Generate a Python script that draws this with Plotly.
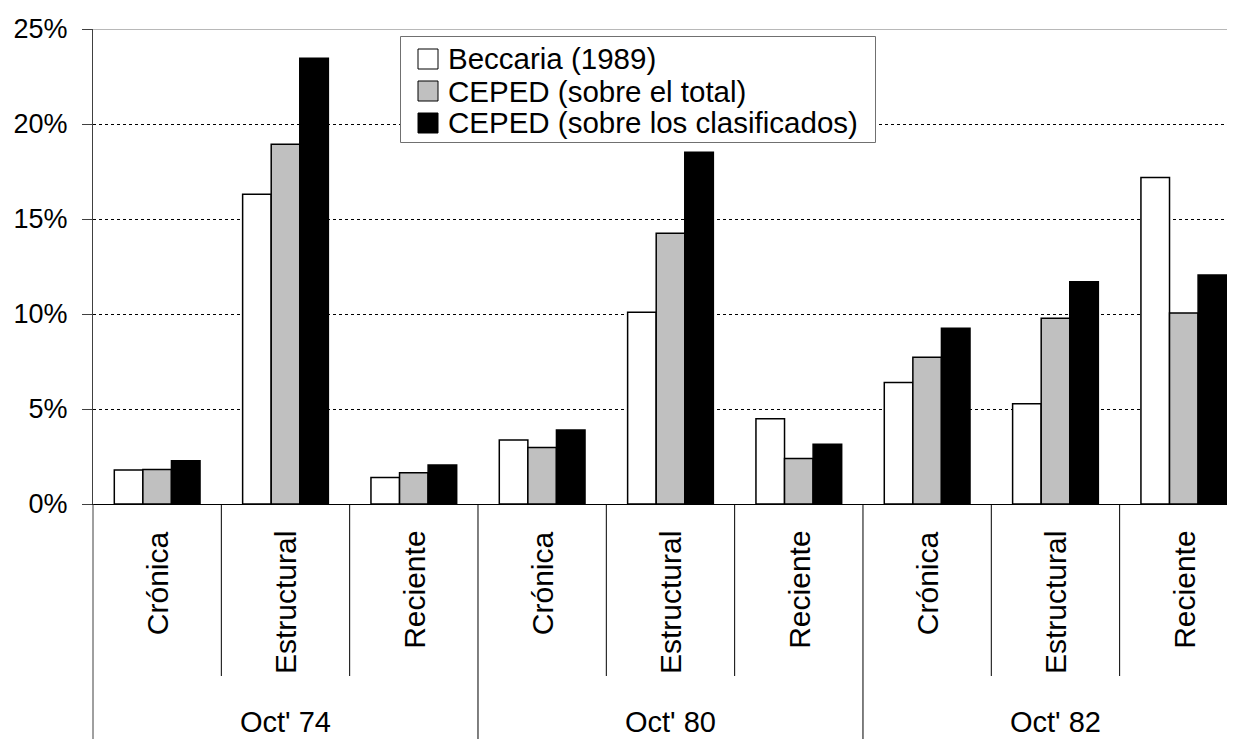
import plotly.graph_objects as go

# ---- data (percent) ----
categories = ["Crónica", "Estructural", "Reciente"] * 3
groups = ["Oct' 74", "Oct' 80", "Oct' 82"]
series_names = ["Beccaria (1989)", "CEPED (sobre el total)", "CEPED (sobre los clasificados)"]
beccaria = [1.79, 16.30, 1.39, 3.37, 10.09, 4.49, 6.39, 5.28, 17.19]
ceped_total = [1.82, 18.93, 1.65, 2.98, 14.25, 2.40, 7.72, 9.77, 10.05]
ceped_clas = [2.28, 23.46, 2.05, 3.89, 18.51, 3.14, 9.25, 11.70, 12.05]
y_ticks = [0, 5, 10, 15, 20, 25]

# ---- layout geometry (page body has an 8px margin) ----
OFF = 8
W, H = 1235 - OFF, 739 - OFF
ML, MT, MB, MR = 93 - OFF, 29 - OFF, 235, 0
PW = W - ML - MR
PH = H - MT - MB
CAT_PX = 128.33
FONT = "Liberation Sans, Arial, Helvetica, sans-serif"

def px2x(px):
    # px in screen pixels
    return (px - OFF - ML) / PW

def py2y(py):
    return (MT + PH - (py - OFF)) / PH

xpos = list(range(len(categories)))
fills = ["#ffffff", "#c0c0c0", "#000000"]
values = [beccaria, ceped_total, ceped_clas]

fig = go.Figure()
for name, vals, col in zip(series_names, values, fills):
    fig.add_trace(go.Bar(
        x=xpos, y=vals, name=name, showlegend=False,
        marker=dict(color=col, line=dict(color="#000000", width=1.5)),
    ))

shapes = []
# top border (covering 25% grid line)
shapes.append(dict(type="line", xref="paper", yref="y", x0=0, x1=1, y0=25, y1=25,
                   line=dict(color="#ffffff", width=3), layer="above"))
shapes.append(dict(type="line", xref="paper", yref="y", x0=0, x1=1, y0=25, y1=25,
                   line=dict(color="#a0a0a0", width=1.5), layer="above"))
# left axis extension down to bottom
shapes.append(dict(type="line", xref="paper", yref="paper", x0=0, x1=0, y0=0, y1=py2y(745),
                   line=dict(color="#404040", width=1)))
# category dividers
n = len(categories)
for i in range(n - 1):
    xb = i + 0.5
    if (i + 1) % 3 == 0:
        y1 = py2y(745)
    else:
        y1 = py2y(676)
    shapes.append(dict(type="line", xref="x", yref="paper", x0=xb, x1=xb, y0=0, y1=y1,
                       line=dict(color="#000000", width=1)))

annotations = []
for i, c in enumerate(categories):
    annotations.append(dict(x=i, y=py2y(529), xref="x", yref="paper", text=c, showarrow=False,
                            textangle=-90, xanchor="center", yanchor="top",
                            font=dict(family=FONT, size=30, color="#000000")))
for g_i, g in enumerate(groups):
    annotations.append(dict(x=g_i * 3 + 1, y=py2y(722), xref="x", yref="paper", text=g,
                            showarrow=False, xanchor="center", yanchor="middle",
                            font=dict(family=FONT, size=29, color="#000000")))

# manual legend
shapes.append(dict(type="rect", xref="paper", yref="paper",
                   x0=px2x(400.5), x1=px2x(875.5), y0=py2y(36.5), y1=py2y(142.5),
                   line=dict(color="#707070", width=1), fillcolor="#ffffff", layer="above"))
row_centers = [59, 91, 123]
for name, col, rc in zip(series_names, fills, row_centers):
    shapes.append(dict(type="rect", xref="paper", yref="paper",
                       x0=px2x(418), x1=px2x(438), y0=py2y(rc - 10), y1=py2y(rc + 10),
                       line=dict(color="#000000", width=1), fillcolor=col, layer="above"))
    annotations.append(dict(x=px2x(446), y=py2y(rc), xref="paper", yref="paper", text=name,
                            showarrow=False, xanchor="left", yanchor="middle",
                            font=dict(family=FONT, size=29.5, color="#000000")))

fig.update_layout(
    width=W, height=H,
    margin=dict(l=ML, r=MR, t=MT, b=MB, pad=0),
    paper_bgcolor="#ffffff", plot_bgcolor="#ffffff",
    barmode="group", bargap=0.332, bargroupgap=0,
    font=dict(family=FONT, size=27, color="#000000"),
    shapes=shapes, annotations=annotations,
    showlegend=False,
)
fig.update_xaxes(range=[-0.5, -0.5 + PW / CAT_PX], showticklabels=False, showgrid=False,
                 zeroline=False, showline=True, linecolor="#000000", linewidth=1, ticks="")
fig.update_yaxes(range=[0, 25], tickvals=y_ticks, ticktext=[f"{v}%" for v in y_ticks],
                 ticks="outside", ticklen=10, tickcolor="#404040", tickwidth=1,
                 ticklabelstandoff=9,
                 showline=True, linecolor="#404040", linewidth=1,
                 showgrid=True, gridcolor="#000000", gridwidth=1, griddash="3px,3px",
                 zeroline=False, tickfont=dict(family=FONT, size=27, color="#000000"))

fig.write_html("out.html")
